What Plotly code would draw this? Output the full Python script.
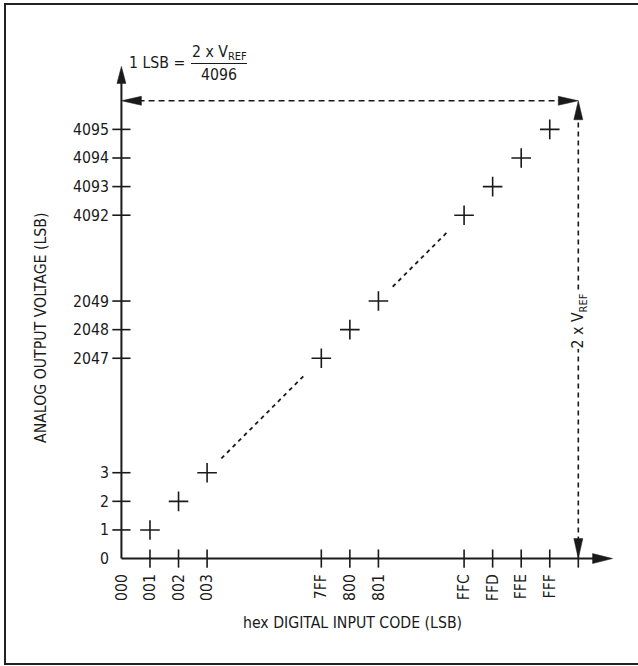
import plotly.graph_objects as go

# Função de transferência do DAC de 12 bits (código hex -> saída em LSB)
CODIGOS = [0x001, 0x002, 0x003, 0x7FF, 0x800, 0x801, 0xFFC, 0xFFD, 0xFFE, 0xFFF]
SAIDA_LSB = [1, 2, 3, 2047, 2048, 2049, 4092, 4093, 4094, 4095]

# rótulos dos eixos
X_TICK_CODIGOS = [0x000, 0x001, 0x002, 0x003, 0x7FF, 0x800, 0x801, 0xFFC, 0xFFD, 0xFFE, 0xFFF]
Y_TICK_VALORES = [0, 1, 2, 3, 2047, 2048, 2049, 4092, 4093, 4094, 4095]

FUNDO_ESCALA = 4096  # 2 x VREF

# eixo "quebrado": (valor inicial do trecho, posição no gráfico)
TRECHOS = [(0, 0), (2047, 7), (4092, 12)]

FONTE = "Liberation Sans Narrow, DejaVu Sans Condensed, Arial Narrow, Liberation Sans, sans-serif"
COR = "#1a1a1a"

W, H = 638, 666
ML, MR, MT, MB = 110, 24, 65, 96
PW, PH = W - ML - MR, H - MT - MB


def pos(v):
    """Converte um valor (código ou LSB) para a posição no eixo quebrado."""
    inicio, p = TRECHOS[0]
    for ini, pp in TRECHOS:
        if v >= ini:
            inicio, p = ini, pp
    return p + (v - inicio)


def px_x(px):
    return (px - ML) / PW


def px_y(py):
    return (H - MB - py) / PH


def seta(x, y, direcao, comp=19, larg=9):
    """Ponta de seta cheia, em pixels, ancorada num ponto do gráfico."""
    h = larg / 2
    caminhos = {
        "cima": f"M0,0 L{-h},{-comp} L{h},{-comp} Z",
        "baixo": f"M0,0 L{-h},{comp} L{h},{comp} Z",
        "esq": f"M0,0 L{comp},{h} L{comp},{-h} Z",
        "dir": f"M0,0 L{-comp},{h} L{-comp},{-h} Z",
    }
    return dict(type="path", xref="x", yref="y", xsizemode="pixel", ysizemode="pixel",
                xanchor=x, yanchor=y, path=caminhos[direcao],
                fillcolor=COR, line=dict(color=COR, width=0.5), layer="above")


xs = [pos(c) for c in CODIGOS]
ys = [pos(v) for v in SAIDA_LSB]
fim = pos(FUNDO_ESCALA)
topo = 17.2

fig = go.Figure()

# trechos tracejados entre os grupos de pontos
for i in range(len(xs) - 1):
    if xs[i + 1] - xs[i] > 1:
        fig.add_trace(go.Scatter(
            x=[xs[i] + 0.5, xs[i + 1] - 0.55], y=[ys[i] + 0.5, ys[i + 1] - 0.55],
            mode="lines", line=dict(color=COR, width=1.8, dash="4px,4px"),
            hoverinfo="skip",
        ))

# marcas dos ticks cruzando os eixos
fig.add_trace(go.Scatter(
    x=[pos(c) for c in X_TICK_CODIGOS if c > 0] + [fim], y=[0] * (len(X_TICK_CODIGOS)),
    mode="markers", marker=dict(symbol="line-ns", size=13, line=dict(color=COR, width=1.6)),
    hoverinfo="skip", cliponaxis=False,
))
fig.add_trace(go.Scatter(
    x=[0] * (len(Y_TICK_VALORES) - 1), y=[pos(v) for v in Y_TICK_VALORES if v > 0],
    mode="markers", marker=dict(symbol="line-ew", size=13, line=dict(color=COR, width=1.6)),
    hoverinfo="skip", cliponaxis=False,
))

# pontos da função de transferência
fig.add_trace(go.Scatter(
    x=xs, y=ys, mode="markers",
    marker=dict(symbol="cross-thin", size=14, line=dict(color=COR, width=1.6)),
    cliponaxis=False,
))

shapes = [
    # eixos
    dict(type="line", xref="x", yref="y", x0=0, y0=0, x1=topo - 0.3, y1=0,
         line=dict(color=COR, width=2)),
    dict(type="line", xref="x", yref="y", x0=0, y0=0, x1=0, y1=topo - 0.3,
         line=dict(color=COR, width=2)),
    seta(topo, 0, "dir", comp=20, larg=10),
    seta(0, topo, "cima", comp=17, larg=9),
    # fundo de escala (2 x VREF)
    dict(type="line", xref="x", yref="y", x0=0.6, y0=fim, x1=fim - 0.6, y1=fim,
         line=dict(color=COR, width=1.6, dash="6px,4px")),
    dict(type="line", xref="x", yref="y", x0=fim, y0=0.6, x1=fim, y1=fim - 0.6,
         line=dict(color=COR, width=1.6, dash="5px,4px")),
    seta(0, fim, "esq", comp=20, larg=9),
    seta(fim, fim, "dir", comp=20, larg=9),
    seta(fim, fim, "cima", comp=19, larg=9),
    seta(fim, 0, "baixo", comp=20, larg=9),
    # traço da fração
    dict(type="line", xref="paper", yref="paper", x0=px_x(191), x1=px_x(247),
         y0=px_y(63.5), y1=px_y(63.5), line=dict(color=COR, width=1)),
    # moldura
    dict(type="rect", xref="paper", yref="paper", x0=px_x(5), x1=px_x(645),
         y0=px_y(664), y1=px_y(4), line=dict(color="#222", width=2)),
]

annotations = [
    dict(text="1 LSB =", x=px_x(187), y=px_y(62), xref="paper", yref="paper",
         xanchor="right", yanchor="middle", showarrow=False),
    dict(text="2 x V<sub>REF</sub>", x=px_x(219), y=px_y(53), xref="paper", yref="paper",
         xanchor="center", yanchor="middle", showarrow=False),
    dict(text="4096", x=px_x(219), y=px_y(74), xref="paper", yref="paper",
         xanchor="center", yanchor="middle", showarrow=False),
    dict(text="2 x V<sub>REF</sub>", x=fim, y=8.3, xref="x", yref="y", textangle=-90,
         xanchor="center", yanchor="middle", showarrow=False, bgcolor="white", borderpad=0),
    dict(text="hex DIGITAL INPUT CODE (LSB)", x=px_x(352), y=px_y(622), xref="paper",
         yref="paper", xanchor="center", yanchor="middle", showarrow=False),
    dict(text="ANALOG OUTPUT VOLTAGE (LSB)", x=px_x(40), y=px_y(328), xref="paper",
         yref="paper", xanchor="center", yanchor="middle", showarrow=False, textangle=-90),
]

fig.update_layout(
    width=W, height=H,
    margin=dict(l=ML, r=MR, t=MT, b=MB),
    plot_bgcolor="white", paper_bgcolor="white",
    font=dict(family=FONTE, size=15.7, color=COR),
    showlegend=False,
    hovermode=False,
    shapes=shapes,
    annotations=annotations,
    xaxis=dict(
        range=[-0.4, 17.25], showgrid=False, zeroline=False, showline=False,
        tickvals=[pos(c) for c in X_TICK_CODIGOS],
        ticktext=[f"{c:03X}" for c in X_TICK_CODIGOS],
        tickangle=-90, ticks="",
    ),
    yaxis=dict(
        range=[-0.4, 17.25], showgrid=False, zeroline=False, showline=False,
        tickvals=[pos(v) for v in Y_TICK_VALORES],
        ticktext=[str(v) for v in Y_TICK_VALORES],
        ticks="",
    ),
)

# a página padrão tem margem de 8px no body; zera para o gráfico ficar em (0,0)
fig.write_html("out.html", config={"displayModeBar": False},
               post_script="document.body.style.margin='0px';")
